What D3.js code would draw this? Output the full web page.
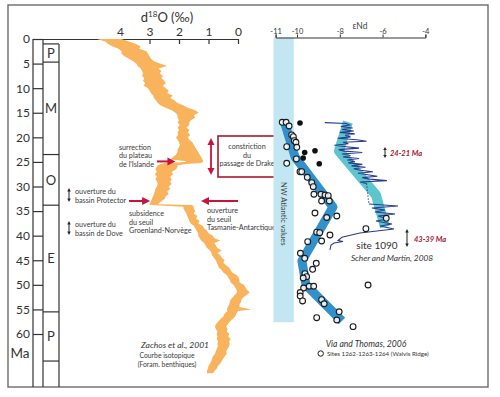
<!DOCTYPE html>
<html>
<head>
<meta charset="utf-8">
<script src="https://cdn.jsdelivr.net/npm/d3@7"></script>
<style>
	body { margin: 0; background: #fff; }
	svg { font-family: Lato, "Open Sans", sans-serif; display: block; }
	.axis text { fill: #333; }
	.axis line, .axis path { stroke: #333; }
</style>
</head>
<body>
<div id="graphic"></div>
<script>
// ---- data ----
// Zachos et al. 2001 benthic d18O band (age in Ma, left edge = heavy, right edge = light)
const zachosAge = [0,0.5,1,1.5,2,2.5,3,3.5,4,4.5,
	5,5.5,6,6.5,7,7.5,8,8.5,9,9.5,
	10,10.5,11,11.5,12,12.5,13,13.5,14,14.5,
	15,15.5,16,16.5,17,17.5,18,18.5,19,19.5,
	20,20.5,21,21.5,22,22.5,23,23.5,24,24.5,
	24.8,25,25.2,25.4,25.7,26,26.5,27,27.5,28,28.5,29,29.5,
	30,30.5,31,31.5,32,32.5,33,33.6,33.75,34.1,
	34.5,35,35.5,36,36.5,37,37.5,38,38.5,39,
	39.5,40,40.5,41,41.5,42,42.5,43,43.5,44,
	44.5,45,45.5,46,46.5,47,47.5,48,48.5,49,
	49.5,50,50.5,51,51.5,52,52.5,53,53.5,54,
	54.5,55,55.3,55.8,56.5,57,57.5,58,58.5,59,
	59.5,60,60.5,61,61.5,62,62.5,63,63.5,64,
	64.5,65,65.5,66,66.5,67,67.5,68];
const zachosHigh = [4.78,4.50,4.40,4.25,4.05,3.95,3.95,3.85,3.70,3.55,
	3.45,3.40,3.30,3.25,3.22,3.25,3.18,3.22,3.15,3.20,
	3.05,3.00,2.95,2.88,2.85,2.78,2.72,2.62,2.45,2.25,
	2.12,2.05,2.05,2.00,2.05,1.97,2.05,2.00,2.05,2.03,
	2.10,2.05,2.00,1.97,2.00,2.05,2.05,2.10,2.20,2.30,
	1.80,1.75,2.50,2.60,2.72,2.75,2.80,2.75,2.82,2.75,2.80,2.75,2.72,
	2.75,2.80,2.82,2.85,2.88,2.92,2.95,3.00,2.98,1.85,
	1.85,1.80,1.75,1.72,1.68,1.65,1.60,1.50,1.45,1.40,
	1.35,1.35,1.30,1.25,1.15,1.10,1.05,0.95,0.90,0.88,
	0.82,0.75,0.72,0.68,0.65,0.55,0.50,0.38,0.33,0.28,
	0.25,0.15,0.10,0.05,0.03,0.10,0.18,0.25,0.28,0.30,
	0.35,0.38,0.35,0.45,0.50,0.60,0.68,0.75,0.78,0.75,
	0.70,0.72,0.70,0.72,0.68,0.70,0.68,0.72,0.75,0.78,
	0.85,0.88,0.90,0.95,1.00,1.02,1.05,1.05];
const zachosLow = [3.95,3.70,3.45,3.30,3.35,3.10,3.05,3.00,2.95,2.85,
	2.65,2.40,2.70,2.60,2.65,2.55,2.60,2.50,2.45,2.55,
	2.45,2.35,2.40,2.22,2.30,2.15,2.05,1.85,1.70,1.45,
	1.33,1.50,1.45,1.60,1.65,1.65,1.75,1.65,1.70,1.62,
	1.70,1.65,1.55,1.50,1.45,1.40,1.35,1.30,1.25,1.20,
	1.18,1.20,1.25,1.75,2.05,2.05,2.10,2.25,2.20,2.30,2.25,2.30,2.25,
	2.35,2.30,2.40,2.35,2.45,2.48,2.60,2.72,1.55,1.50,
	1.50,1.45,1.50,1.38,1.42,1.30,1.35,1.20,1.15,1.05,
	1.00,0.85,0.80,0.60,0.80,0.75,0.70,0.55,0.70,0.60,
	0.55,0.45,0.50,0.40,0.30,0.25,0.20,0.05,-0.02,-0.05,
	-0.05,-0.20,-0.25,-0.30,-0.40,-0.30,-0.18,-0.12,-0.10,-0.05,
	-0.05,-0.45,0.00,0.05,0.10,0.20,0.28,0.35,0.40,0.35,
	0.38,0.30,0.33,0.25,0.30,0.28,0.30,0.35,0.40,0.38,
	0.45,0.50,0.55,0.60,0.68,0.72,0.80,0.85];

// geological epochs
const epochNames = ['P', 'M', 'O', 'E', 'P'];
const epochStart = [1.0, 4.7, 23.5, 33.8, 55.5];
const epochEnd = [4.7, 23.5, 33.8, 55.5, 65.5];

// axis ticks
const ageTicks = [0, 5, 10, 15, 20, 25, 30, 35, 40, 45, 50, 55, 60];
const d18Ticks = [4, 3, 2, 1, 0];
const ndTicks = [-11, -10, -8, -6, -4];

// Via and Thomas 2006, Walvis Ridge sites (open circles)
const walvisNd = [-10.69,-10.51,-10.37,-10.25,-10.17,-10.13,-10.05,-10.48,-10.01,-10.48,
	-10.03,-9.86,-9.78,-9.52,-9.31,-9.24,-8.88,-8.69,-8.54,-9.21,
	-8.49,-8.85,-9.16,-8.14,-8.61,-9.08,-8.94,-8.46,-8.85,-9.50,
	-9.84,-9.64,-9.10,-9.27,-9.63,-9.55,-9.71,-9.43,-9.22,-9.69,
	-9.85,-9.85,-9.74,-6.68,-8.85,-8.73,-8.03,-9.08,-8.14,-7.38,
	-5.83,-6.78];
const walvisAge = [16.94,16.94,17.69,19.52,19.87,20.68,21.01,21.90,22.03,25.28,
	24.40,26.99,26.99,28.13,29.23,30.04,31.58,31.73,31.87,31.58,
	32.95,32.95,35.39,36.00,36.30,39.29,39.39,39.86,41.08,41.22,
	43.58,44.60,45.62,46.84,47.73,48.34,48.61,50.29,50.29,50.64,
	51.56,52.27,53.28,50.03,53.02,53.85,55.48,56.68,57.15,58.51,
	36.47,38.58];
// filled circles
const filledNd = [-9.86, -9.64, -9.16, -9.71, -8.96];
const filledAge = [17.08, 23.08, 22.72, 24.20, 25.36];
// Walvis trend
const walvisTrendNd = [-10.56, -10.09, -8.32, -9.77, -9.58, -7.90];
const walvisTrendAge = [17.29, 24.0, 34.17, 45.15, 50.03, 57.35];

// Scher and Martin 2008, site 1090
const s1090TrendNd = [-7.62, -8.04, -6.31, -5.89];
const s1090TrendAge = [16.88, 22.78, 31.73, 38.23];
const s1090AgeA = [17.0,17.2,17.5,17.8,18.1,18.4,18.7,19.0,19.3,19.6,19.9,20.2,20.5,20.8,21.0,21.3,21.6,21.9,22.2,22.5,
	22.8,23.1,23.4,23.7,24.0,24.3,24.6,24.9,25.2,25.5,25.8,26.1,26.4,26.7,27.0,27.3,27.6,27.9,28.2,28.5,28.8,29.1,29.4];
const s1090NdA = [-8.70,-7.70,-7.55,-7.95,-7.40,-7.90,-7.35,-8.00,-7.30,-7.75,-7.50,-8.10,-7.20,-6.75,-7.85,-7.60,-8.25,-7.70,-7.10,-8.05,
	-7.80,-6.95,-7.90,-7.50,-7.85,-7.10,-7.65,-7.30,-7.60,-6.95,-7.45,-6.80,-7.35,-7.05,-6.45,-7.15,-6.70,-6.25,-6.95,-6.60,-5.80,-7.05,-6.75];
const s1090AgeB = [33.56,33.96,34.37,34.78,35.18,35.59,36.00,36.61,37.01,37.62,38.03,38.64,39.46,40.33,40.98,41.18,41.49,41.90,42.91];
const s1090NdB = [-6.64,-5.28,-6.50,-5.89,-6.36,-5.42,-6.21,-5.75,-6.31,-5.56,-6.12,-5.47,-7.06,-7.90,-8.08,-7.85,-8.27,-8.41,-8.46];

// NW Atlantic range
const nwAtlanticNd = [-11.1, -10.15];
const nwAtlanticAge = [-0.3, 57.6];

// ---- drawing ----
const width = 500, height = 397;
const frameBottom = 387;

const svg = d3.select('#graphic').append('svg')
	.attr('width', width)
	.attr('height', height);

svg.append('rect').attr('width', width).attr('height', height).attr('fill', '#fff');

// frame
svg.append('rect')
	.attr('x', 8).attr('y', 5)
	.attr('width', 480).attr('height', frameBottom - 5)
	.attr('fill', 'none')
	.attr('stroke', '#6b6b6b')
	.attr('stroke-width', 1.4);

// scales
const y = d3.scaleLinear().domain([0, 60]).range([39, 334]);
const xD18 = d3.scaleLinear().domain([6.95, 0]).range([33, 238]);
const xNd = d3.scaleLinear().domain([-11, -4]).range([275.6, 425.4]);

// arrow helper
function arrow(g, x1, y1, x2, y2, opt) {
	const col = opt.color, hl = opt.headLen, hw = opt.headW;
	const dx = x2 - x1, dy = y2 - y1, len = Math.hypot(dx, dy);
	const ux = dx / len, uy = dy / len;
	const head = (px, py, sx, sy) => {
		const bx = px - sx * hl, by = py - sy * hl;
		g.append('path')
			.attr('d', `M${px},${py}L${bx - sy * hw / 2},${by + sx * hw / 2}L${bx + sy * hw / 2},${by - sx * hw / 2}Z`)
			.attr('fill', col);
	};
	const s = opt.both ? hl * 0.6 : 0;
	g.append('line')
		.attr('x1', x1 + ux * s).attr('y1', y1 + uy * s)
		.attr('x2', x2 - ux * hl * 0.6).attr('y2', y2 - uy * hl * 0.6)
		.attr('stroke', col).attr('stroke-width', opt.width);
	head(x2, y2, ux, uy);
	if (opt.both) head(x1, y1, -ux, -uy);
}

// ---------- left panel ----------
const left = svg.append('g');

// column lines
[33, 43].forEach(x => left.append('line')
	.attr('x1', x).attr('x2', x).attr('y1', y(0)).attr('y2', frameBottom)
	.attr('stroke', '#333').attr('stroke-width', 1.2));
left.append('line')
	.attr('x1', 59).attr('x2', 59).attr('y1', y(epochStart[0])).attr('y2', frameBottom)
	.attr('stroke', '#333').attr('stroke-width', 1.2);

// epoch boundaries and labels
const bounds = [epochStart[0]].concat(epochEnd);
left.selectAll('line.epoch')
	.data(bounds)
	.join('line')
	.attr('class', 'epoch')
	.attr('x1', 43).attr('x2', 59)
	.attr('y1', d => y(d)).attr('y2', d => y(d))
	.attr('stroke', '#333').attr('stroke-width', 1.2);
left.selectAll('text.epoch')
	.data(epochNames)
	.join('text')
	.attr('class', 'epoch')
	.attr('x', 51)
	.attr('y', (d, i) => y((epochStart[i] + epochEnd[i]) / 2))
	.attr('dy', '0.36em')
	.attr('text-anchor', 'middle')
	.attr('font-size', 13)
	.attr('fill', '#333')
	.text(d => d);

// age axis
left.append('g')
	.attr('class', 'axis')
	.attr('transform', 'translate(33,0)')
	.call(d3.axisLeft(y).tickValues(ageTicks).tickSize(-10).tickPadding(3).tickFormat(d => d))
	.call(g => g.select('.domain').remove())
	.call(g => g.selectAll('text').attr('font-size', 12).attr('font-family', 'Lato, sans-serif'))
	.call(g => g.selectAll('line').attr('stroke-width', 1.2));

left.append('text')
	.attr('x', 20).attr('y', 358)
	.attr('text-anchor', 'middle')
	.attr('font-size', 13.5)
	.attr('fill', '#333')
	.text('Ma');

// d18O axis
left.append('g')
	.attr('class', 'axis')
	.attr('transform', `translate(0,${y(0)})`)
	.call(d3.axisTop(xD18).tickValues(d18Ticks).tickSizeInner(-5).tickSizeOuter(0).tickPadding(3).tickFormat(d => d))
	.call(g => g.selectAll('text').attr('font-size', 12).attr('font-family', 'Lato, sans-serif'))
	.call(g => g.selectAll('line, path').attr('stroke-width', 1.2));

const d18Title = left.append('text')
	.attr('x', 167).attr('y', 22)
	.attr('text-anchor', 'middle')
	.attr('font-size', 13)
	.attr('fill', '#333');
d18Title.append('tspan').text('d');
d18Title.append('tspan').attr('font-size', 8).attr('dy', -5).text('18');
d18Title.append('tspan').attr('dy', 5).text('O (‰)');

// isotope band
const zachos = zachosAge.map((a, i) => ({ age: a, hi: zachosHigh[i], lo: zachosLow[i] }));
left.append('path')
	.datum(zachos)
	.attr('fill', '#f8b35c')
	.attr('d', d3.area()
		.y(d => y(d.age))
		.x0(d => xD18(d.hi))
		.x1(d => xD18(d.lo)));

// left annotations
const small = (g, x, y0, lines, opt = {}) => {
	const t = g.append('text')
		.attr('x', x).attr('y', y0)
		.attr('font-size', opt.size || 7.2)
		.attr('fill', opt.color || '#3a3a3a')
		.attr('text-anchor', opt.anchor || 'start')
		.attr('font-style', opt.italic ? 'italic' : null)
		.attr('font-weight', opt.bold ? 'bold' : null);
	lines.forEach((l, i) => t.append('tspan').attr('x', x).attr('dy', i ? (opt.lh || 8.7) : 0).text(l));
	return t;
};

const red = '#c8133a';
small(left, 119, 149.5, ['surrection', 'du plateau', "de l'Islande"]);
arrow(left, xD18(2.75), y(24.9), xD18(2.12), y(24.9), { color: red, width: 2, headLen: 8, headW: 8 });

arrow(left, 211, 138, 211, 175, { color: red, width: 1.8, headLen: 7, headW: 7, both: true });
left.append('rect')
	.attr('x', 218).attr('y', 136).attr('width', 57).attr('height', 41)
	.attr('fill', 'none').attr('stroke', '#a8192f').attr('stroke-width', 1.6);
small(left, 247, 149, ['constriction', 'du', 'passage de Drake'], { anchor: 'middle' });

arrow(left, 129, 201, xD18(2.98), 201, { color: red, width: 2, headLen: 8, headW: 8 });
small(left, 129, 216, ['subsidence', 'du seuil', 'Groenland-Norvège']);
arrow(left, 238, 201, 201, 201, { color: red, width: 2, headLen: 8, headW: 8 });
small(left, 207, 213, ['ouverture', 'du seuil', 'Tasmanie-Antarctique']);

arrow(left, 69, 188, 69, 202, { color: '#222', width: 1, headLen: 3.5, headW: 3.5, both: true });
small(left, 75, 194, ['ouverture du', 'bassin Protector']);
arrow(left, 69, 221, 69, 235, { color: '#222', width: 1, headLen: 3.5, headW: 3.5, both: true });
small(left, 75, 227, ['ouverture du', 'bassin de Dove']);

small(left, 175, 348, ['Zachos et al., 2001'], { size: 8.5, italic: true, anchor: 'middle', color: '#333' });
small(left, 167, 358, ['Courbe isotopique', '(Foram.  benthiques)'], { size: 6.8, anchor: 'middle', lh: 8.5 });

// ---------- right panel ----------
const right = svg.append('g');

right.append('rect')
	.attr('x', xNd(nwAtlanticNd[0]))
	.attr('y', y(nwAtlanticAge[0]))
	.attr('width', xNd(nwAtlanticNd[1]) - xNd(nwAtlanticNd[0]))
	.attr('height', y(nwAtlanticAge[1]) - y(nwAtlanticAge[0]))
	.attr('fill', '#c2e7f3');
right.append('text')
	.attr('transform', `translate(${(xNd(nwAtlanticNd[0]) + xNd(nwAtlanticNd[1])) / 2},182) rotate(90)`)
	.attr('dy', '0.35em')
	.attr('font-size', 7.6)
	.attr('fill', '#444')
	.text('NW Atlantic values');

// eNd axis
right.append('g')
	.attr('class', 'axis')
	.attr('transform', `translate(0,${y(0) - 1.5})`)
	.call(d3.axisTop(xNd).tickValues(ndTicks).tickSize(3).tickPadding(0.5).tickFormat(d => String(d)))
	.call(g => g.selectAll('text').attr('font-size', 7.5).attr('fill', '#444').attr('font-family', 'Lato, sans-serif'))
	.call(g => g.selectAll('line, path').attr('stroke', '#555'));
right.append('text')
	.attr('x', 360).attr('y', 29)
	.attr('text-anchor', 'middle')
	.attr('font-size', 8.5)
	.attr('fill', '#444')
	.text('εNd');

const line = d3.line().x(d => xNd(d[0])).y(d => y(d[1]));

// Walvis trend
right.append('path')
	.attr('d', line(walvisTrendNd.map((v, i) => [v, walvisTrendAge[i]])))
	.attr('fill', 'none')
	.attr('stroke', '#3290cb')
	.attr('stroke-width', 9)
	.attr('stroke-linejoin', 'round');

// site 1090 trend
right.append('path')
	.attr('d', line(s1090TrendNd.map((v, i) => [v, s1090TrendAge[i]])))
	.attr('fill', 'none')
	.attr('stroke', '#5ec5cd')
	.attr('stroke-width', 10)
	.attr('stroke-linejoin', 'round');

// site 1090 record
const segA = s1090NdA.map((v, i) => [v, s1090AgeA[i]]);
const segB = s1090NdB.map((v, i) => [v, s1090AgeB[i]]);
[segA, segB].forEach(seg => right.append('path')
	.attr('d', line(seg))
	.attr('fill', 'none')
	.attr('stroke', '#2a3b8f')
	.attr('stroke-width', 1.1));
right.append('path')
	.attr('d', line([segA[segA.length - 1], segB[0]]))
	.attr('fill', 'none')
	.attr('stroke', '#2a3b8f')
	.attr('stroke-width', 1.2)
	.attr('stroke-dasharray', '1.2,1.8');

// Walvis circles
right.append('g')
	.selectAll('circle')
	.data(walvisNd.map((v, i) => [v, walvisAge[i]]))
	.join('circle')
	.attr('cx', d => xNd(d[0]))
	.attr('cy', d => y(d[1]))
	.attr('r', 2.9)
	.attr('fill', '#fff')
	.attr('fill-opacity', 0.85)
	.attr('stroke', '#1a1a1a')
	.attr('stroke-width', 1.1);
right.append('g')
	.selectAll('circle')
	.data(filledNd.map((v, i) => [v, filledAge[i]]))
	.join('circle')
	.attr('cx', d => xNd(d[0]))
	.attr('cy', d => y(d[1]))
	.attr('r', 2.8)
	.attr('fill', '#111');

// right annotations
const darkRed = '#a3162e';
arrow(right, 385, 147, 385, 158, { color: '#222', width: 1, headLen: 3, headW: 3.5, both: true });
small(right, 390, 155.5, ['24-21 Ma'], { size: 7.5, italic: true, bold: true, color: darkRed });
arrow(right, 407, 229, 407, 247, { color: '#222', width: 1, headLen: 3.5, headW: 3.5, both: true });
small(right, 414, 241.5, ['43-39 Ma'], { size: 7.5, italic: true, bold: true, color: darkRed });

small(right, 377, 248.5, ['site 1090'], { size: 10, anchor: 'middle', color: '#333' });
small(right, 392, 261, ['Scher and Martin, 2008'], { size: 8.3, italic: true, anchor: 'middle', color: '#333' });

small(right, 366, 347, ['Via and Thomas, 2006'], { size: 8.6, italic: true, anchor: 'middle', color: '#333' });
right.append('circle')
	.attr('cx', 320.7).attr('cy', 353.5).attr('r', 2.7)
	.attr('fill', '#fff').attr('stroke', '#1a1a1a').attr('stroke-width', 1);
small(right, 327, 356, ['Sites 1262-1263-1264 (Walvis Ridge)'], { size: 6.2, color: '#333' });
</script>
</body>
</html>
